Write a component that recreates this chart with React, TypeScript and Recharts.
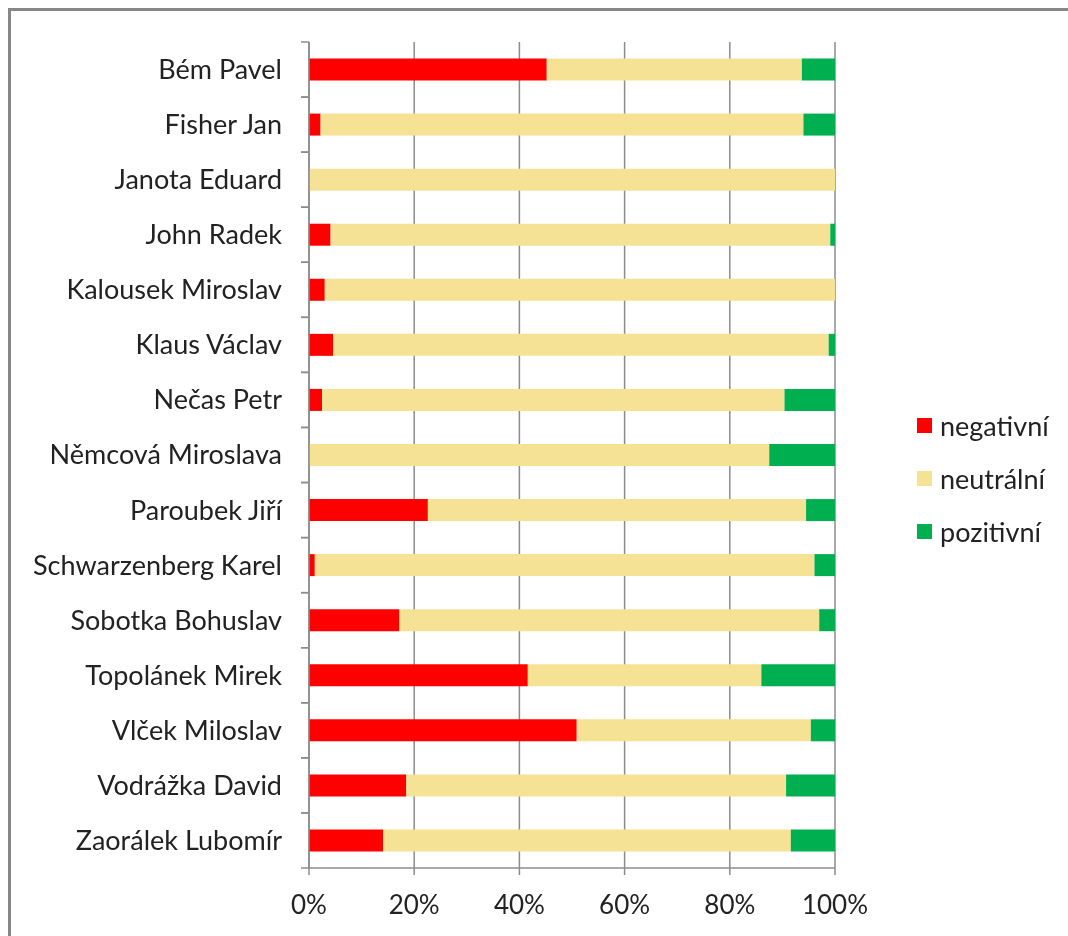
import React from "react";
import {
  BarChart,
  Bar,
  XAxis,
  YAxis,
  CartesianGrid,
  Legend,
} from "recharts";

// politicians, top to bottom
const names = [
  "Bém Pavel",
  "Fisher Jan",
  "Janota Eduard",
  "John Radek",
  "Kalousek Miroslav",
  "Klaus Václav",
  "Nečas Petr",
  "Němcová Miroslava",
  "Paroubek Jiří",
  "Schwarzenberg Karel",
  "Sobotka Bohuslav",
  "Topolánek Mirek",
  "Vlček Miloslav",
  "Vodrážka David",
  "Zaorálek Lubomír",
];

// shares in %
const negativni = [45.2, 2.2, 0, 4.1, 3.0, 4.6, 2.5, 0, 22.6, 1.1, 17.2, 41.6, 50.9, 18.5, 14.1];
const neutralni = [48.5, 91.8, 100, 95.0, 97.0, 94.2, 87.9, 87.5, 71.9, 95.0, 79.8, 44.4, 44.5, 72.2, 77.5];
const pozitivni = [6.3, 6.0, 0, 0.9, 0, 1.2, 9.6, 12.5, 5.5, 3.9, 3.0, 14.0, 4.6, 9.3, 8.4];

const xTicks = [0, 0.2, 0.4, 0.6, 0.8, 1];

const series = [
  { key: "negativni", label: "negativní", color: "#FF0000" },
  { key: "neutralni", label: "neutrální", color: "#F6E294" },
  { key: "pozitivni", label: "pozitivní", color: "#00B050" },
];

const data = names.map((name, i) => ({
  name,
  negativni: negativni[i],
  neutralni: neutralni[i],
  pozitivni: pozitivni[i],
}));

const FONT = "Lato, 'Open Sans', sans-serif";
const TEXT = "#222222";
const AXIS = "#8c8c8c";

const CHART_W = 1049;
const CHART_H = 917;
const TOP = 31;
const XAXIS_H = 60;
const BAND = (CHART_H - TOP - XAXIS_H) / names.length;

const NameTick = (props: any) => {
  const { x, y, payload } = props;
  return (
    <g>
      <line x1={x - 8} x2={x} y1={y - BAND / 2} y2={y - BAND / 2} stroke={AXIS} strokeWidth={1.5} />
      <line x1={x - 8} x2={x} y1={y + BAND / 2} y2={y + BAND / 2} stroke={AXIS} strokeWidth={1.5} />
      <text
        x={x - 27}
        y={y}
        dy="0.35em"
        textAnchor="end"
        fill={TEXT}
        fontSize={27}
        fontFamily={FONT}
      >
        {payload.value}
      </text>
    </g>
  );
};

const LegendBox = () => (
  <div style={{ width: 200, paddingTop: 17, fontFamily: FONT }}>
    {series.map((s) => (
      <div
        key={s.key}
        style={{
          height: 53,
          display: "flex",
          alignItems: "center",
          paddingLeft: 82,
        }}
      >
        <div
          style={{
            width: 15,
            height: 15,
            backgroundColor: s.color,
            marginRight: 8,
            flexShrink: 0,
          }}
        />
        <span style={{ fontSize: 27, color: TEXT, whiteSpace: "nowrap" }}>{s.label}</span>
      </div>
    ))}
  </div>
);

export default function App() {
  return (
    <div style={{ width: 1049, height: CHART_H, position: "relative" }}>
      {/* frame: only top and left edges are visible in the picture */}
      <div
        style={{
          position: "fixed",
          left: 8,
          top: 8,
          width: 1200,
          height: 1100,
          border: "3px solid #878787",
          pointerEvents: "none",
        }}
      />
      <div style={{ position: "absolute", left: 3, top: 3 }}>
        <BarChart
          width={CHART_W}
          height={CHART_H}
          data={data}
          layout="vertical"
          stackOffset="expand"
          barCategoryGap="30%"
          margin={{ top: TOP, right: 25, left: 0, bottom: 0 }}
        >
          <CartesianGrid horizontal={false} stroke={AXIS} strokeWidth={1.5} />
          <XAxis
            type="number"
            domain={[0, 1]}
            ticks={xTicks}
            height={XAXIS_H}
            tickFormatter={(v) => `${Math.round(v * 100)}%`}
            tick={{ fill: TEXT, fontSize: 26, fontFamily: FONT }}
            axisLine={{ stroke: AXIS, strokeWidth: 1.5 }}
            tickLine={{ stroke: AXIS, strokeWidth: 1.5 }}
            tickSize={7}
            tickMargin={21}
          />
          <YAxis
            type="category"
            dataKey="name"
            width={298}
            tick={<NameTick />}
            tickLine={false}
            tickSize={0}
            tickMargin={0}
            interval={0}
            axisLine={{ stroke: AXIS, strokeWidth: 1.5 }}
          />
          <Legend
            layout="vertical"
            align="right"
            verticalAlign="middle"
            content={<LegendBox />}
          />
          {series.map((s) => (
            <Bar
              key={s.key}
              dataKey={s.key}
              name={s.label}
              stackId="a"
              fill={s.color}
              isAnimationActive={false}
            />
          ))}
        </BarChart>
      </div>
    </div>
  );
}
